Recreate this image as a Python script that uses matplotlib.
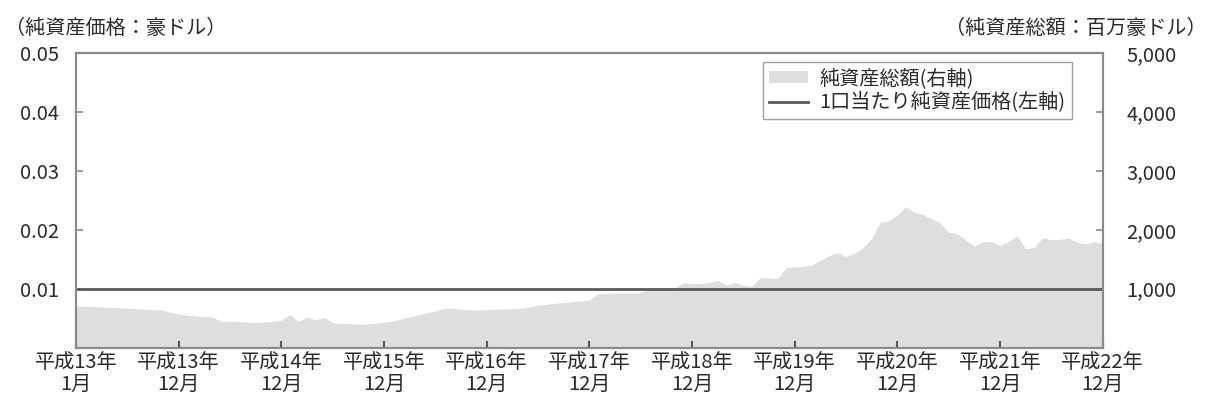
import matplotlib
matplotlib.use('Agg')
import matplotlib.pyplot as plt
import numpy as np

plt.rcParams['font.family'] = ['Noto Sans CJK JP', 'DejaVu Sans']

# ---- data ----
tick_labels = ['平成13年\n1月', '平成13年\n12月', '平成14年\n12月', '平成15年\n12月',
               '平成16年\n12月', '平成17年\n12月', '平成18年\n12月', '平成19年\n12月',
               '平成20年\n12月', '平成21年\n12月', '平成22年\n12月']

# 純資産総額（百万豪ドル）, roughly monthly readings
net_assets = [
    703, 700, 695, 690, 681, 675, 668, 660, 652, 645, 636, 600,
    568, 550, 534, 525, 515, 440, 450, 440, 430, 425, 435, 445,
    466, 565, 445, 520, 470, 510, 420, 410, 405, 398, 400, 412,
    430, 450, 485, 520, 555, 590, 620, 660, 670, 650, 640, 636,
    645, 650, 655, 660, 665, 690, 720, 735, 750, 765, 780, 790,
    805, 915, 920, 925, 925, 930, 930, 1000, 1000, 1005, 1010, 1095,
    1090, 1085, 1100, 1140, 1060, 1110, 1060, 1040, 1190, 1180, 1170, 1360,
    1370, 1380, 1400, 1480, 1560, 1610, 1550, 1600, 1700, 1850, 2130, 2150,
    2250, 2390, 2300, 2260, 2190, 2120, 1960, 1935, 1830, 1720, 1800, 1800,
    1730, 1800, 1900, 1680, 1700, 1870, 1830, 1840, 1860, 1790, 1760, 1800,
    1770,
]
nav_per_unit = 0.01  # 1口当たり純資産価格（豪ドル）, constant

left_ticks = [0.01, 0.02, 0.03, 0.04, 0.05]
right_ticks = [1000, 2000, 3000, 4000, 5000]

# ---- figure ----
fig = plt.figure(figsize=(12.09, 4.03), dpi=100)
ax = fig.add_axes([0.0629, 0.1377, 0.8491, 0.7300])
ax2 = ax.twinx()

spine_c = '#8a8a8a'
text_c = '#2a2a2a'
fs = 14.5

x = np.arange(len(net_assets))
area = ax2.fill_between(x, 0, net_assets, color='#dedede', linewidth=0,
                        label='純資産総額(右軸)')
ax2.set_ylim(0, 5000)
ax2.set_yticks(right_ticks)
ax2.set_yticklabels([f'{v:,}' for v in right_ticks])

line = ax.axhline(nav_per_unit, color='#5a5a5a', linewidth=2.0,
                  label='1口当たり純資産価格(左軸)')
ax.set_ylim(0, 0.05)
ax.set_yticks(left_ticks)
ax.set_yticklabels([f'{v:.2f}' for v in left_ticks])

ax.set_xlim(0, len(net_assets) - 1)
ax.set_xticks(np.linspace(0, len(net_assets) - 1, len(tick_labels)))
ax.set_xticklabels(tick_labels, linespacing=1.05)

ax.set_zorder(ax2.get_zorder() + 1)
ax.patch.set_visible(False)

for a in (ax, ax2):
    for s in a.spines.values():
        s.set_color(spine_c)
        s.set_linewidth(1.5)

ax.tick_params(axis='y', direction='in', length=5, width=1.2, color=spine_c,
               labelsize=fs, labelcolor=text_c, pad=12)
ax.tick_params(axis='x', direction='in', length=5, width=1.5, color='#555555',
               labelsize=fs, labelcolor=text_c, pad=3)
ax2.tick_params(axis='y', direction='in', length=5, width=1.2, color=spine_c,
                labelsize=fs, labelcolor=text_c, pad=17)

fig.text(0.004, 0.93, '（純資産価格：豪ドル）', fontsize=fs, color=text_c,
         ha='left', va='center')
fig.text(0.998, 0.93, '（純資産総額：百万豪ドル）', fontsize=fs, color=text_c,
         ha='right', va='center')

leg = ax.legend(handles=[area, line], loc='upper right',
                bbox_to_anchor=(0.970, 0.970), borderaxespad=0,
                fontsize=fs, frameon=True, fancybox=False, handlelength=1.9,
                handleheight=0.5, borderpad=0.3, labelspacing=0.15,
                handletextpad=0.6)
leg.get_frame().set_edgecolor('#8a8a8a')
leg.get_frame().set_linewidth(1.0)
for t in leg.get_texts():
    t.set_color(text_c)

fig.savefig('out.png', dpi=100)
